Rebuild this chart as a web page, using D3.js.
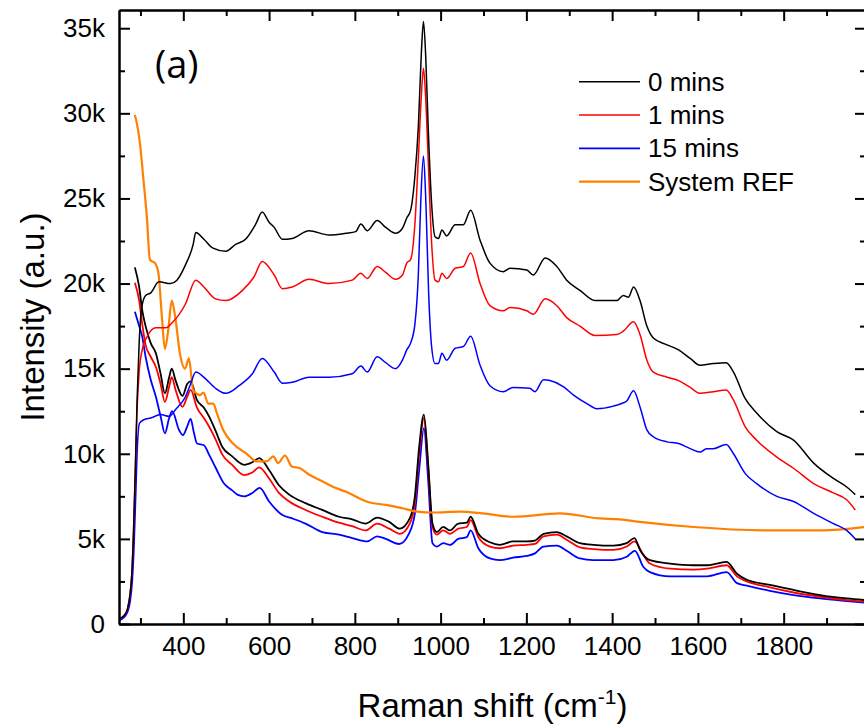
<!DOCTYPE html>
<html><head><meta charset="utf-8">
<script src="https://cdn.jsdelivr.net/npm/d3@7"></script>
<style>
body{margin:0;background:#fff;}
svg{display:block;}
</style></head>
<body><svg id="chart" width="864" height="727"></svg>
<script>
// ---- data (x: Raman shift cm-1, y: intensity in thousands) ----
const xMajorTicks = [400,600,800,1000,1200,1400,1600,1800];
const xMinorTicks = [300,500,700,900,1100,1300,1500,1700,1900];
const yMajorTicks = [0,5,10,15,20,25,30,35];
const yMinorTicks = [2.5,7.5,12.5,17.5,22.5,27.5,32.5];
const legendLabels = ["0 mins","1 mins","15 mins","System REF"];

const black0Upper = [[250,0.3],[262,0.5],[270,0.9],[276,1.8],[280,3.0],[284,5.5],[288,9.0],[292,13.0],[297,16.5],[303,18.6],[312,19.3],[324,19.45],[343,20.1],[370,20.0],[385,20.2],[405,21.1],[423,22.3],[429,23.0],[448,22.6],[468,22.1],[499,21.9],[522,22.3],[545,22.6],[569,23.5],[584,24.2],[600,23.6],[612,23.3],[631,22.6],[654,22.65],[693,23.1],[740,22.85],[779,22.95],[802,23.05],[814,23.5],[829,23.1],[852,23.7],[872,23.3],[895,22.95],[911,23.25],[921,23.85],[930,24.3],[940,26.3],[948,29.2],[955,33.5],[960,35.4],[965,33.5],[971,29.2],[979,24.7],[987,22.75],[995,22.65],[1003,23.15],[1014,22.8],[1034,23.45],[1053,23.45],[1070,24.3],[1092,22.55],[1115,21.2],[1146,20.7],[1162,20.9],[1201,20.8],[1216,20.5],[1244,21.5],[1271,21.0],[1294,20.2],[1325,19.6],[1360,19.0],[1411,19.0],[1426,19.3],[1438,19.2],[1450,19.8],[1465,19.0],[1481,17.5],[1496,16.8],[1528,16.4],[1555,16.1],[1582,15.6],[1605,15.2],[1636,15.3],[1666,15.35],[1683,14.8],[1710,13.25],[1737,12.4],[1784,11.3],[1823,10.8],[1870,9.45],[1916,8.55],[1947,8.05],[1967,7.6]];

const red1Upper = [[250,0.3],[262,0.5],[270,0.9],[276,1.8],[280,3.0],[284,5.5],[288,9.0],[292,12.5],[297,14.8],[305,16.2],[316,16.9],[336,17.4],[359,17.4],[374,17.7],[405,18.8],[429,20.2],[448,19.8],[475,19.1],[499,19.0],[538,19.6],[565,20.4],[584,21.3],[612,20.5],[631,19.7],[654,19.8],[693,20.25],[740,20.0],[794,20.2],[814,20.6],[829,20.3],[852,21.0],[872,20.65],[895,20.25],[911,20.5],[921,21.2],[930,21.4],[940,23.5],[948,27.3],[955,31.0],[960,32.65],[965,31.0],[971,27.3],[979,22.4],[987,20.2],[995,20.1],[1003,20.6],[1014,20.3],[1034,20.9],[1053,21.0],[1070,21.8],[1092,20.0],[1115,18.7],[1146,18.4],[1162,18.6],[1201,18.4],[1216,18.2],[1244,19.1],[1271,18.7],[1294,18.0],[1325,17.5],[1360,16.95],[1411,17.0],[1426,17.2],[1450,17.75],[1465,17.0],[1481,15.5],[1496,14.8],[1528,14.5],[1555,14.3],[1582,13.9],[1605,13.55],[1636,13.65],[1666,13.75],[1683,13.15],[1710,11.6],[1737,10.8],[1784,9.8],[1823,9.15],[1870,8.25],[1916,7.7],[1947,7.3],[1967,6.7]];

const blue15Upper = [[250,0.2],[262,0.4],[270,0.7],[276,1.3],[281,2.5],[285,4.5],[289,7.5],[293,10.5],[298,11.8],[308,12.0],[324,12.1],[347,12.3],[367,12.2],[382,12.6],[405,13.35],[417,14.1],[429,14.8],[452,14.4],[475,13.85],[499,13.55],[530,14.0],[561,14.7],[584,15.6],[612,14.8],[631,14.15],[654,14.2],[693,14.5],[740,14.5],[794,14.7],[814,15.15],[829,14.8],[852,15.7],[872,15.35],[895,15.0],[911,15.5],[921,16.1],[930,16.5],[940,17.6],[948,20.5],[954,25.0],[960,27.5],[966,24.5],[972,19.5],[979,16.3],[987,15.3],[995,15.3],[1003,15.9],[1014,15.5],[1034,16.2],[1053,16.3],[1070,16.9],[1092,15.2],[1115,14.0],[1146,13.65],[1169,13.9],[1208,13.85],[1220,13.65],[1240,14.35],[1255,14.3],[1286,13.95],[1310,13.45],[1341,12.95],[1364,12.65],[1403,12.8],[1422,12.95],[1434,13.1],[1450,13.7],[1465,12.75],[1481,11.4],[1496,11.0],[1528,10.7],[1555,10.6],[1582,10.3],[1605,10.1],[1620,10.3],[1636,10.3],[1666,10.55],[1683,10.0],[1710,8.85],[1737,8.25],[1784,7.5],[1823,7.2],[1870,6.5],[1916,5.9],[1947,5.5],[1967,5.0]];

const black0Lower = [[287,20.95],[297,19.8],[304,18.45],[312,17.5],[324,16.5],[336,15.9],[347,14.7],[357,13.55],[367,14.5],[373,15.0],[382,14.3],[398,13.4],[409,14.1],[417,14.25],[432,13.15],[448,12.7],[460,12.2],[476,11.3],[491,10.4],[514,9.85],[542,9.35],[561,9.5],[577,9.75],[600,9.05],[623,8.15],[647,7.6],[685,7.1],[724,6.7],[763,6.3],[794,6.15],[825,5.9],[852,6.25],[880,6.0],[905,5.6],[928,6.2],[940,7.5],[950,10.4],[961,12.3],[971,9.4],[981,5.9],[991,5.4],[1006,5.7],[1022,5.5],[1041,5.9],[1061,5.95],[1070,6.3],[1088,5.3],[1115,4.8],[1138,4.65],[1169,4.85],[1201,4.85],[1220,4.9],[1240,5.3],[1271,5.4],[1294,5.15],[1325,4.75],[1356,4.65],[1403,4.6],[1434,4.75],[1452,5.05],[1465,4.35],[1488,3.75],[1535,3.55],[1590,3.45],[1621,3.45],[1644,3.55],[1667,3.65],[1691,2.95],[1714,2.6],[1768,2.3],[1823,2.0],[1885,1.7],[1947,1.5],[1992,1.4]];

const red1Lower = [[287,20.05],[297,19.0],[304,17.65],[312,16.4],[324,15.7],[336,15.1],[347,14.1],[357,13.05],[367,13.95],[373,14.5],[382,13.75],[398,12.75],[409,13.35],[417,13.75],[432,12.7],[448,12.1],[460,11.6],[476,10.8],[491,9.95],[514,9.35],[542,8.75],[561,8.9],[577,9.2],[600,8.55],[623,7.7],[647,7.2],[685,6.7],[724,6.3],[763,5.95],[794,5.75],[825,5.5],[852,5.9],[880,5.6],[905,5.3],[928,5.9],[940,7.1],[950,10.0],[961,12.1],[971,9.25],[981,5.7],[991,5.25],[1006,5.5],[1022,5.3],[1041,5.6],[1061,5.7],[1070,6.1],[1088,5.1],[1115,4.55],[1138,4.45],[1169,4.6],[1201,4.65],[1220,4.7],[1240,5.15],[1271,5.25],[1294,4.95],[1325,4.5],[1356,4.4],[1403,4.35],[1434,4.55],[1452,4.85],[1473,4.05],[1488,3.55],[1535,3.25],[1590,3.2],[1621,3.25],[1667,3.45],[1691,2.8],[1714,2.5],[1768,2.15],[1823,1.85],[1885,1.6],[1947,1.4],[1992,1.3]];

const blue15Lower = [[287,18.35],[297,17.5],[304,16.9],[312,15.7],[324,14.35],[336,13.35],[347,12.2],[357,11.2],[367,12.1],[374,12.5],[390,11.4],[399,11.1],[409,11.6],[417,12.05],[425,11.2],[432,10.6],[448,10.5],[460,9.95],[476,9.15],[495,8.25],[514,7.85],[526,7.6],[542,7.5],[561,7.7],[578,8.0],[600,7.2],[631,6.4],[654,6.2],[685,5.9],[724,5.4],[763,5.25],[794,5.05],[829,4.85],[852,5.15],[872,5.0],[903,4.7],[926,5.3],[940,6.5],[950,9.05],[961,11.5],[971,8.45],[981,4.75],[991,4.55],[1006,4.75],[1022,4.65],[1041,5.0],[1061,5.1],[1070,5.5],[1088,4.45],[1115,3.85],[1138,3.75],[1169,3.9],[1201,4.0],[1220,4.15],[1240,4.55],[1271,4.6],[1294,4.3],[1325,3.85],[1356,3.75],[1403,3.75],[1434,3.95],[1453,4.3],[1473,3.35],[1488,3.05],[1535,2.8],[1590,2.8],[1621,2.8],[1667,3.05],[1691,2.4],[1714,2.25],[1768,1.95],[1823,1.7],[1885,1.5],[1947,1.35],[1992,1.25]];

const systemRef = [[287,29.9],[290,29.6],[299,28.2],[307,26.1],[315,23.9],[322,21.4],[334,21.2],[342,20.6],[350,18.05],[357,16.15],[365,17.3],[373,19.0],[381,18.05],[392,15.9],[404,15.0],[413,15.6],[423,13.75],[439,13.45],[447,13.6],[458,12.95],[470,12.95],[478,12.4],[493,11.4],[516,10.6],[548,10.0],[571,9.55],[594,9.55],[610,9.85],[621,9.45],[637,9.9],[653,9.25],[672,9.15],[695,8.75],[719,8.45],[750,8.05],[781,7.75],[833,7.15],[872,7.0],[911,6.8],[946,6.6],[982,6.55],[1045,6.6],[1098,6.5],[1169,6.3],[1278,6.5],[1372,6.2],[1418,6.15],[1465,6.0],[1590,5.7],[1768,5.5],[1885,5.5],[1992,5.7]];

// ---- layout ----
const L = 119, R = 866, T = 10, B = 624;
const svg = d3.select("#chart");
const x = d3.scaleLinear().domain([250, 1992]).range([L, R]);
const y = d3.scaleLinear().domain([0, 36.07]).range([B, T]);
const FONT = "'Liberation Sans', Arial, sans-serif";

svg.append("defs").append("clipPath").attr("id","plotclip")
  .append("rect").attr("x",L).attr("y",T).attr("width",R-L).attr("height",B-T);

const line = d3.line().x(d=>x(d[0])).y(d=>y(d[1])).curve(d3.curveMonotoneX);
const series = [
  {d: blue15Lower, c:"#0000ff", w:1.8},
  {d: red1Lower, c:"#ff0000", w:1.8},
  {d: black0Lower, c:"#000000", w:1.8},
  {d: systemRef, c:"#ff8000", w:2.2},
  {d: blue15Upper, c:"#0000ff", w:1.5},
  {d: red1Upper, c:"#ff0000", w:1.5},
  {d: black0Upper, c:"#000000", w:1.5}
];
const g = svg.append("g").attr("clip-path","url(#plotclip)");
series.forEach(s => g.append("path").datum(s.d).attr("d", line)
  .attr("fill","none").attr("stroke", s.c).attr("stroke-width", s.w).attr("stroke-linejoin","round"));

// ---- axes ----
function styleAxis(sel){
  sel.select(".domain").attr("stroke","#000").attr("stroke-width",2);
  sel.selectAll(".tick line").attr("stroke","#000").attr("stroke-width",2);
  sel.selectAll("text").attr("font-family",FONT).attr("font-size",26).attr("fill","#000");
}
const fmtY = v => v === 0 ? "0" : v + "k";
const fmtX = d3.format("d");
const axes = [
  svg.append("g").attr("transform",`translate(0,${B})`).call(d3.axisBottom(x).tickValues(xMajorTicks).tickSize(-11).tickSizeOuter(0).tickPadding(13).tickFormat(fmtX)),
  svg.append("g").attr("transform",`translate(0,${B})`).call(d3.axisBottom(x).tickValues(xMinorTicks).tickSize(-6).tickSizeOuter(0).tickFormat("")),
  svg.append("g").attr("transform",`translate(0,${T})`).call(d3.axisTop(x).tickValues(xMajorTicks).tickSize(-11).tickSizeOuter(0).tickFormat("")),
  svg.append("g").attr("transform",`translate(0,${T})`).call(d3.axisTop(x).tickValues(xMinorTicks).tickSize(-6).tickSizeOuter(0).tickFormat("")),
  svg.append("g").attr("transform",`translate(${L},0)`).call(d3.axisLeft(y).tickValues(yMajorTicks).tickSize(-11).tickSizeOuter(0).tickPadding(14).tickFormat(fmtY)),
  svg.append("g").attr("transform",`translate(${L},0)`).call(d3.axisLeft(y).tickValues(yMinorTicks).tickSize(-6).tickSizeOuter(0).tickFormat("")),
  svg.append("g").attr("transform",`translate(${R},0)`).call(d3.axisRight(y).tickValues(yMajorTicks).tickSize(-11).tickSizeOuter(0).tickFormat("")),
  svg.append("g").attr("transform",`translate(${R},0)`).call(d3.axisRight(y).tickValues(yMinorTicks).tickSize(-6).tickSizeOuter(0).tickFormat(""))
];
axes.forEach(styleAxis);

// ---- titles ----
const xt = svg.append("text").attr("x",(L+R)/2).attr("y",717).attr("text-anchor","middle")
  .attr("font-family",FONT).attr("font-size",33).attr("fill","#000");
xt.append("tspan").text("Raman shift (cm");
xt.append("tspan").attr("font-size",21).attr("dy",-13).text("-1");
xt.append("tspan").attr("dy",13).text(")");

svg.append("text").attr("transform",`translate(44,${(T+B)/2}) rotate(-90)`).attr("text-anchor","middle")
  .attr("font-family",FONT).attr("font-size",33).attr("fill","#000").text("Intensity (a.u.)");

svg.append("text").attr("x",155).attr("y",78).attr("font-family","'Open Sans', sans-serif")
  .attr("font-size",38).attr("fill","#000").text("(a)");

// ---- legend ----
const legColors = ["#000000","#ff0000","#0000ff","#ff8000"];
const legY = d3.scaleLinear().domain([0,3]).range([81.7,181.7]);
legendLabels.forEach((lab,i)=>{
  svg.append("line").attr("x1",579).attr("x2",640).attr("y1",legY(i)).attr("y2",legY(i))
    .attr("stroke",legColors[i]).attr("stroke-width", i===3 ? 2.2 : 1.6);
  svg.append("text").attr("x",648).attr("y",legY(i)).attr("dy","0.35em")
    .attr("font-family",FONT).attr("font-size",26).attr("fill","#000").text(lab);
});
</script></body></html>
